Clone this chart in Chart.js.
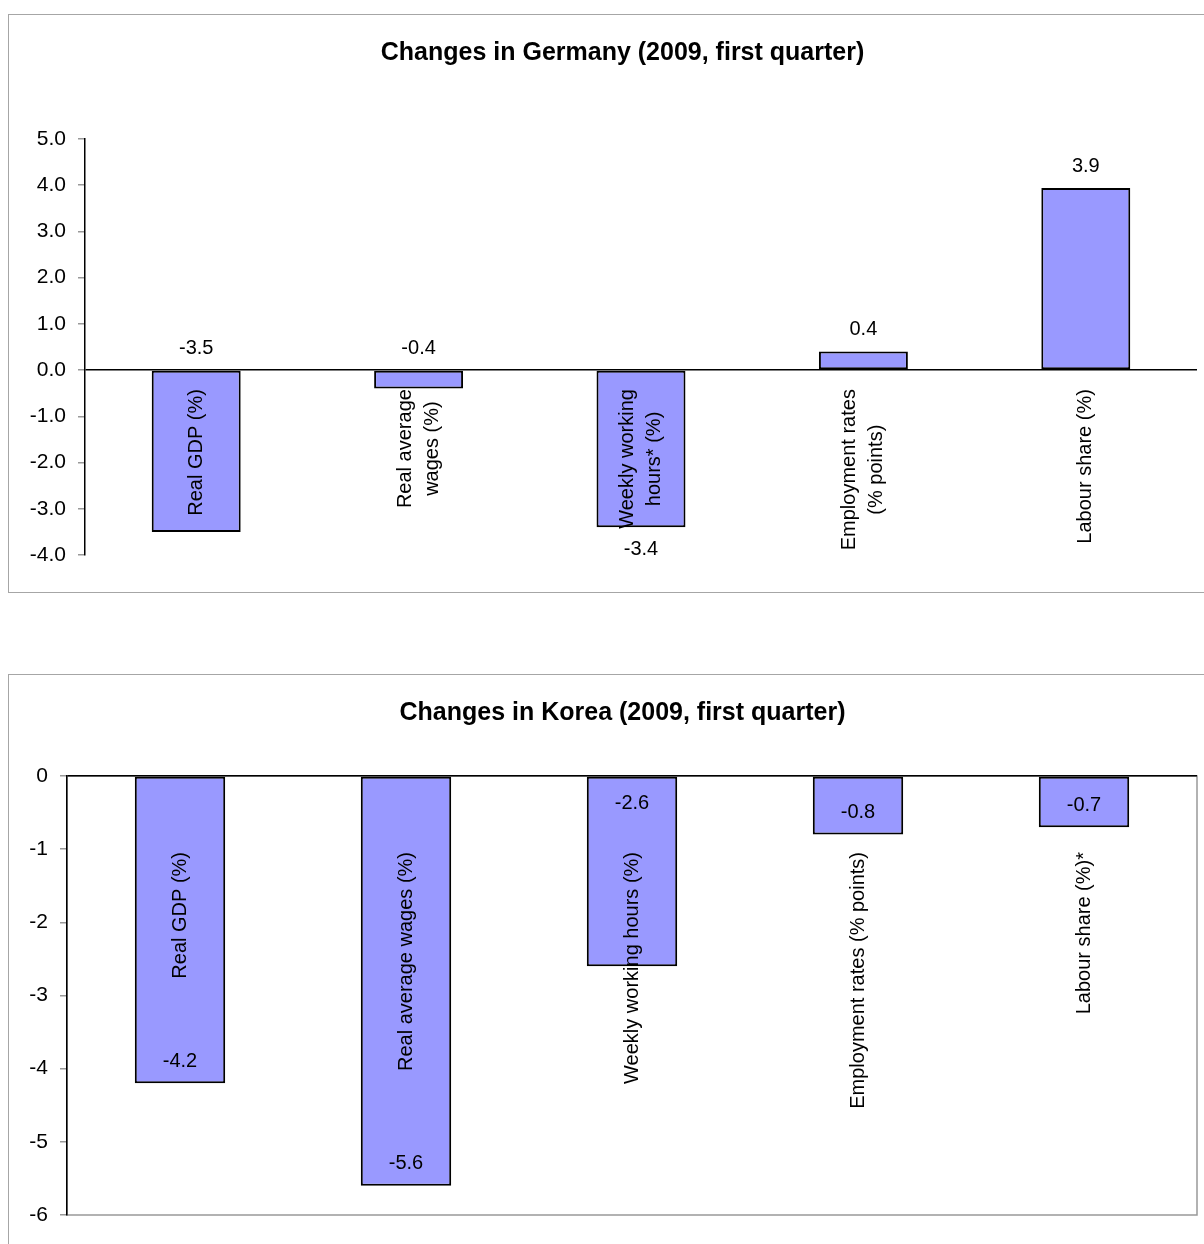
<!DOCTYPE html>
<html>
<head>
<meta charset="utf-8">
<script src="https://cdn.jsdelivr.net/npm/chart.js@4.4.0/dist/chart.umd.min.js"></script>
<style>
  html, body { margin: 0; padding: 0; background: #fff; overflow: hidden; width: 1204px; height: 1244px; }
  .box { position: absolute; left: 8px; width: 1227px; border: 1px solid #a6a6a6; background: #fff; }
  #boxDe { top: 14px; height: 577px; }
  #boxKr { top: 674px; height: 600px; }
</style>
</head>
<body>
<div class="box" id="boxDe"><canvas id="de"></canvas></div>
<div class="box" id="boxKr"><canvas id="kr"></canvas></div>
<script>
// --- data ---
const deTitle = 'Changes in Germany (2009, first quarter)';
const deCategories = [['Real GDP (%)'], ['Real average', 'wages (%)'], ['Weekly working', 'hours* (%)'], ['Employment rates', '(% points)'], ['Labour share (%)']];
const deValues = [-3.5, -0.4, -3.4, 0.4, 3.94];
const deYTicks = [-4, -3, -2, -1, 0, 1, 2, 3, 4, 5];

const krTitle = 'Changes in Korea (2009, first quarter)';
const krCategories = ['Real GDP (%)', 'Real average wages (%)', 'Weekly working hours (%)', 'Employment rates (% points)', 'Labour share (%)*'];
const krValues = [-4.2, -5.6, -2.6, -0.8, -0.7];
const krYTicks = [-6, -5, -4, -3, -2, -1, 0];

(function () {
  'use strict';
  const FONT = "'Liberation Sans', Arial, sans-serif";
  Chart.defaults.font.family = FONT;
  Chart.defaults.font.size = 20;
  Chart.defaults.color = '#000';

  // gray frame round the plot area (drawn first so the black axes sit on top)
  const plotFrame = {
    id: 'plotFrame',
    beforeDraw(chart, args, o) {
      if (!o.color) return;
      const a = chart.chartArea, ctx = chart.ctx;
      ctx.save();
      ctx.strokeStyle = o.color; ctx.lineWidth = 1.5;
      ctx.strokeRect(a.left, a.top, a.right - a.left, a.bottom - a.top);
      ctx.restore();
    }
  };

  // rotated category names inside the plot + value labels (Excel-like placement)
  const barLabels = {
    id: 'barLabels',
    afterDatasetsDraw(chart, args, o) {
      const ctx = chart.ctx, xs = chart.scales.x, ys = chart.scales.y;
      const meta = chart.getDatasetMeta(0);
      const y0 = ys.getPixelForValue(0);
      ctx.save();
      ctx.font = '20px ' + FONT;
      ctx.fillStyle = '#000';
      ctx.textAlign = 'center'; ctx.textBaseline = 'middle';
      chart.data.labels.forEach((lab, i) => {
        const lines = Array.isArray(lab) ? lab : [lab];
        const w = Math.max(...lines.map((l) => ctx.measureText(l).width));
        ctx.save();
        ctx.translate(xs.getPixelForValue(i), y0 + o.catOffset);
        ctx.rotate(-Math.PI / 2);
        lines.forEach((l, j) => ctx.fillText(l, -w / 2, (j - (lines.length - 1) / 2) * o.lineH));
        ctx.restore();
      });
      chart.data.datasets[0].data.forEach((v, i) => {
        const dn = v < 0 ? 1 : -1; // direction the bar grows on screen
        const end = ys.getPixelForValue(v);
        const p = o.pos[i];
        let py;
        if (p === 'outsideEnd') py = end + dn * o.gap;
        else if (p === 'insideEnd') py = end - dn * o.gap;
        else if (p === 'outsideBase') py = y0 - dn * o.gap;
        else py = y0 + dn * (o.gap + 5);
        ctx.fillText(v.toFixed(1), meta.data[i].x, py);
      });
      ctx.restore();
    }
  };

  const yAxis = (ticks, dec, w) => ({
    min: ticks[0], max: ticks[ticks.length - 1],
    ticks: { stepSize: 1, padding: 12, color: '#000', font: { size: 21 }, callback: (v) => Number(v).toFixed(dec) },
    grid: { color: (c) => (c.tick && c.tick.value === 0 ? '#000' : 'transparent'), tickColor: '#999', tickLength: 7, lineWidth: 1.5 },
    border: { color: '#000', width: 1.5 },
    afterFit: (s) => { s.width = w; },
  });
  // empty right-hand axis: only keeps the plot clear of the box's right part
  const spacer = (w) => ({
    position: 'right', display: true,
    ticks: { display: false }, grid: { display: false }, border: { display: false },
    afterFit: (s) => { s.width = w; },
  });

  function barChart(id, title, labels, values, yTicks, dec, o) {
    return new Chart(document.getElementById(id), {
      type: 'bar',
      data: { labels, datasets: [{ data: values, backgroundColor: '#9999ff', borderColor: '#000', borderWidth: 2, borderSkipped: false, categoryPercentage: 1, barPercentage: 0.4 }] },
      options: {
        responsive: true, maintainAspectRatio: false, animation: false,
        layout: { padding: { left: 0, right: 0, top: 0, bottom: o.bottom } },
        plugins: {
          legend: { display: false }, tooltip: { enabled: false },
          title: { display: true, text: title, color: '#000', font: { size: 25, weight: 'bold' }, padding: o.titlePad },
          plotFrame: { color: o.frame },
          barLabels: { pos: o.pos, gap: 22, catOffset: o.catOffset, lineH: 27 },
        },
        scales: { x: { display: false }, y: yAxis(yTicks, dec, o.axisW), y2: spacer(39) },
      },
      plugins: [plotFrame, barLabels],
    });
  }

  barChart('de', deTitle, deCategories, deValues, deYTicks, 1, {
    bottom: 37, axisW: 76, titlePad: { top: 23, bottom: 71 }, frame: null, catOffset: 19,
    pos: ['outsideBase', 'outsideBase', 'outsideEnd', 'outsideEnd', 'outsideEnd'],
  });
  barChart('kr', krTitle, krCategories, krValues, krYTicks, 0, {
    bottom: 60, axisW: 58, titlePad: { top: 23, bottom: 48 }, frame: '#999', catOffset: 76,
    pos: ['insideEnd', 'insideEnd', 'insideBase', 'insideEnd', 'insideEnd'],
  });
})();
</script>
</body>
</html>
